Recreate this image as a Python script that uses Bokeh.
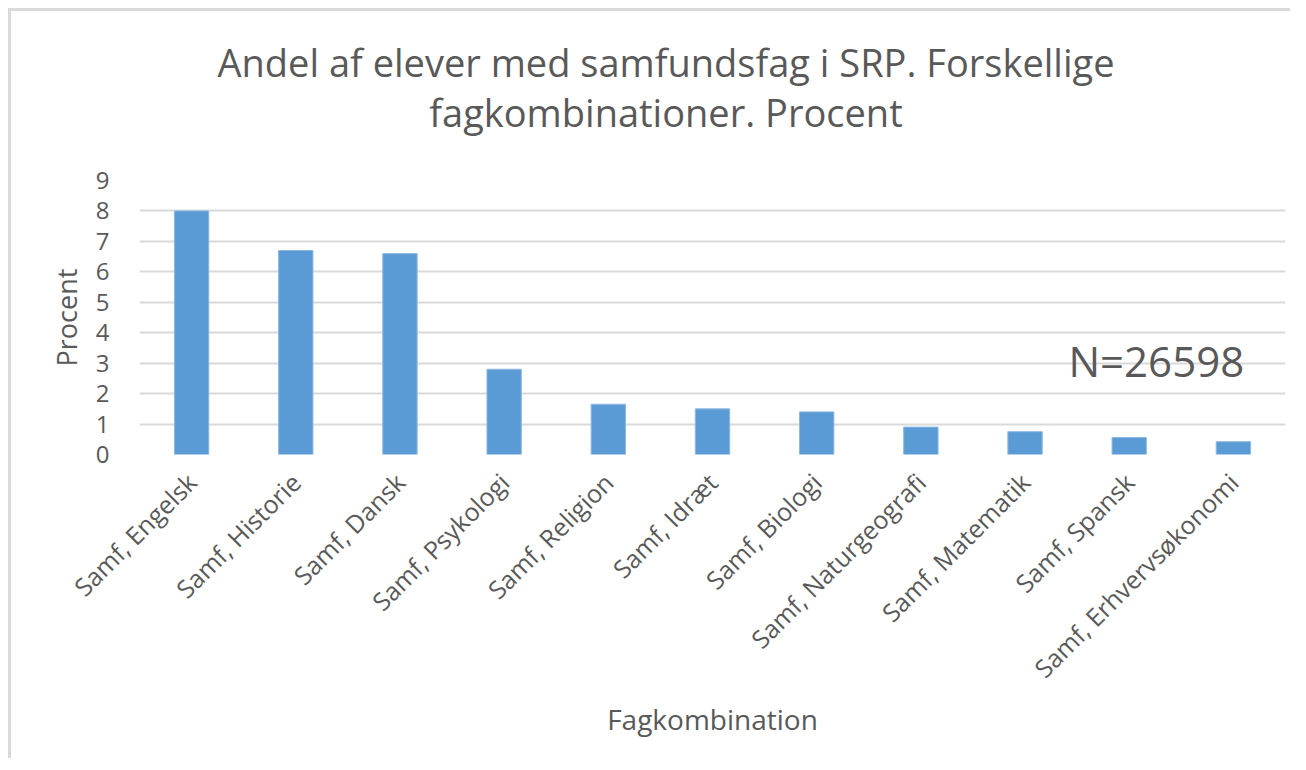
from bokeh.plotting import figure
from bokeh.models import FactorRange, Range1d, Label, Div
from bokeh.layouts import column
from bokeh.embed import file_html
from bokeh.resources import INLINE
from math import pi

categories = ["Samf, Engelsk", "Samf, Historie", "Samf, Dansk", "Samf, Psykologi",
              "Samf, Religion", "Samf, Idræt", "Samf, Biologi", "Samf, Naturgeografi",
              "Samf, Matematik", "Samf, Spansk", "Samf, Erhvervsøkonomi"]
values = [8.0, 6.7, 6.6, 2.8, 1.65, 1.5, 1.4, 0.9, 0.75, 0.56, 0.42]
y_ticks = list(range(0, 10))
title_lines = ["Andel af elever med samfundsfag i SRP. Forskellige", "fagkombinationer. Procent"]

FONT = "Open Sans"
GRAY = "#595959"
W = 1279

title = Div(text="<br>".join(title_lines), width=W, height=139, margin=0,
            styles={"font-family": FONT, "font-size": "38px", "color": GRAY,
                    "line-height": "50px", "text-align": "center",
                    "padding-top": "26px", "padding-left": "31px", "box-sizing": "border-box"})

p = figure(width=W, height=608, x_range=FactorRange(*categories), y_range=Range1d(0, 9),
           output_backend="svg", toolbar_location=None,
           min_border_left=128, min_border_right=5, min_border_top=30, min_border_bottom=304)

p.vbar(x=categories, top=values, width=0.33, fill_color="#5B9BD5", line_color="#8DB9E3", line_width=1)

p.outline_line_color = None
p.xgrid.grid_line_color = None
p.ygrid.grid_line_color = "#D9D9D9"
p.ygrid.grid_line_width = 2
p.yaxis.ticker = y_ticks

for ax in (p.xaxis[0], p.yaxis[0]):
    ax.axis_line_color = None
    ax.major_tick_line_color = None
    ax.minor_tick_line_color = None
    ax.major_label_text_font = FONT
    ax.major_label_text_color = GRAY
    ax.axis_label_text_font = FONT
    ax.axis_label_text_color = GRAY
    ax.axis_label_text_font_style = "normal"

p.yaxis.major_label_text_font_size = "24px"
p.yaxis.major_label_standoff = 24
p.yaxis.axis_label = "Procent"
p.yaxis.axis_label_text_font_size = "27px"
p.yaxis.axis_label_standoff = 8

p.xaxis.major_label_text_font_size = "25px"
p.xaxis.major_label_orientation = pi / 4
p.xaxis.major_label_standoff = 17
p.xaxis.axis_label = "Fagkombination"
p.xaxis.axis_label_text_font_size = "28px"
p.xaxis.axis_label_standoff = 0

p.add_layout(Label(x=9.76, y=3.1, text="N=26598", text_font=FONT, text_font_size="42px",
                   text_color=GRAY, text_align="center", text_baseline="middle"))

page = column(title, p, margin=(8, 0, 0, 8),
              styles={"border-top": "3px solid #D9D9D9", "border-left": "3px solid #D9D9D9"})

open("out.html", "w").write(file_html(page, INLINE))
